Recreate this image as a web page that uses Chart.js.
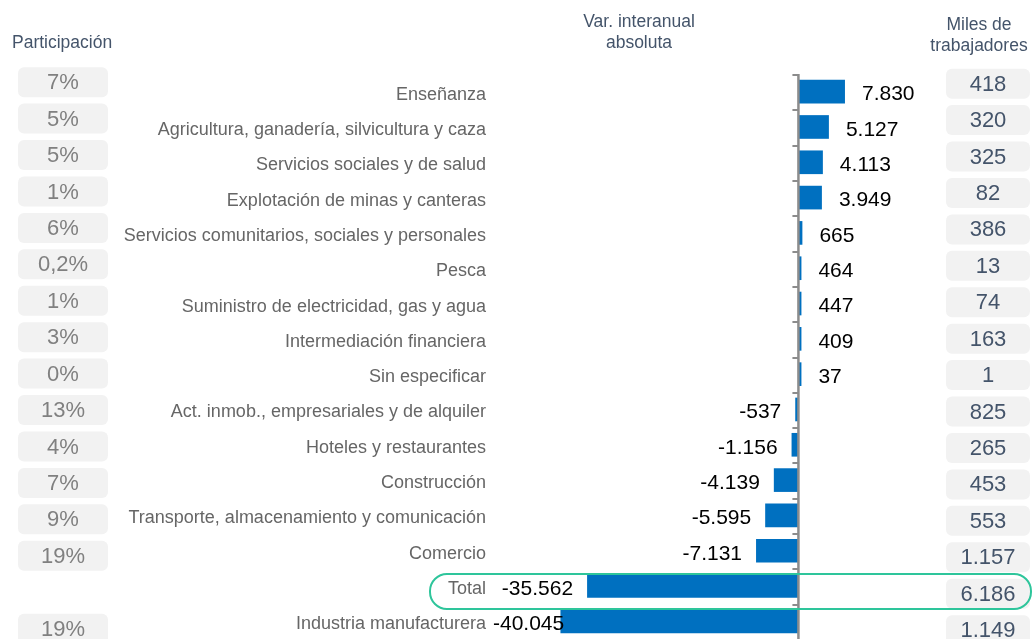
<!DOCTYPE html>
<html>
<head>
<meta charset="utf-8">
<script src="https://cdn.jsdelivr.net/npm/chart.js@4.4.1/dist/chart.umd.min.js"></script>
<style>
  html, body { margin: 0; padding: 0; background: #fff; }
  #wrap { position: relative; width: 1032px; height: 639px; }
</style>
</head>
<body>
<div id="wrap"><canvas id="chart"></canvas></div>
<script>
// datos
const categorias = [
    'Enseñanza',
    'Agricultura, ganadería, silvicultura y caza',
    'Servicios sociales y de salud',
    'Explotación de minas y canteras',
    'Servicios comunitarios, sociales y personales',
    'Pesca',
    'Suministro de electricidad, gas y agua',
    'Intermediación financiera',
    'Sin especificar',
    'Act. inmob., empresariales y de alquiler',
    'Hoteles y restaurantes',
    'Construcción',
    'Transporte, almacenamiento y comunicación',
    'Comercio',
    'Total',
    'Industria manufacturera'
];
const variacion = [7830, 5127, 4113, 3949, 665, 464, 447, 409, 37, -537, -1156, -4139, -5595, -7131, -35562, -40045];
const participacion = ['7%', '5%', '5%', '1%', '6%', '0,2%', '1%', '3%', '0%', '13%', '4%', '7%', '9%', '19%', '', '19%'];
const milesTrabajadores = ['418', '320', '325', '82', '386', '13', '74', '163', '1', '825', '265', '453', '553', '1.157', '6.186', '1.149'];
const filaTotal = 'Total';

const FONT = 'Arial, "Liberation Sans", sans-serif';

// formato con punto de miles
function fmt(n) {
    const s = Math.abs(n).toString().replace(/\B(?=(\d{3})+(?!\d))/g, '.');
    return (n < 0 ? '-' : '') + s;
}

function roundRect(ctx, x, y, w, h, r) {
    ctx.beginPath();
    ctx.moveTo(x + r, y);
    ctx.lineTo(x + w - r, y);
    ctx.arcTo(x + w, y, x + w, y + r, r);
    ctx.lineTo(x + w, y + h - r);
    ctx.arcTo(x + w, y + h, x + w - r, y + h, r);
    ctx.lineTo(x + r, y + h);
    ctx.arcTo(x, y + h, x, y + h - r, r);
    ctx.lineTo(x, y + r);
    ctx.arcTo(x, y, x + r, y, r);
    ctx.closePath();
}

// eje cero, etiquetas, columnas laterales
const extrasPlugin = {
    id: 'extras',
    afterDatasetsDraw(chart) {
        const ctx = chart.ctx;
        const xs = chart.scales.x;
        const ys = chart.scales.y;
        const area = chart.chartArea;
        const x0 = xs.getPixelForValue(0);
        const step = ys.getPixelForValue(1) - ys.getPixelForValue(0);
        ctx.save();

        // valores de las barras
        ctx.font = '21px ' + FONT;
        ctx.fillStyle = '#000';
        ctx.textBaseline = 'middle';
        chart.getDatasetMeta(0).data.forEach((bar, i) => {
            const v = variacion[i];
            const y = bar.y + 3;
            const txt = fmt(v);
            if (v >= 0) {
                ctx.textAlign = 'left';
                ctx.fillText(txt, Math.max(bar.x, x0 + 3) + 17, y);
            } else {
                const w = ctx.measureText(txt).width;
                let right = bar.x - 14;
                if (right - w < 493) right = 493 + w;
                ctx.textAlign = 'right';
                ctx.fillText(txt, right, y);
            }
        });

        // eje vertical en cero
        ctx.strokeStyle = '#8c8c8c';
        ctx.lineWidth = 2.5;
        ctx.beginPath();
        ctx.moveTo(x0, area.top);
        ctx.lineTo(x0, area.bottom + 5);
        ctx.stroke();
        ctx.lineWidth = 2;
        for (let i = 0; i <= categorias.length; i++) {
            const y = Math.round(ys.getPixelForValue(i - 0.5)) + 1;
            ctx.beginPath();
            ctx.moveTo(x0 - 6, y);
            ctx.lineTo(x0, y);
            ctx.stroke();
        }

        // cajas laterales
        ctx.font = '22px ' + FONT;
        ctx.textAlign = 'center';
        categorias.forEach((c, i) => {
            const cy = ys.getPixelForValue(0) - 9.5 + i * (step + 1.12);
            if (participacion[i] !== '') {
                ctx.fillStyle = '#f2f2f2';
                roundRect(ctx, 18, cy - 15, 90, 30, 6);
                ctx.fill();
                ctx.fillStyle = '#808080';
                ctx.fillText(participacion[i], 63, cy + 1);
            }
            const cy2 = cy + 1.5;
            ctx.fillStyle = '#f2f2f2';
            roundRect(ctx, 946, cy2 - 15, 84, 30, 6);
            ctx.fill();
            ctx.fillStyle = '#44546a';
            ctx.fillText(milesTrabajadores[i], 988, cy2 + 1);
        });

        // recuadro de la fila Total
        const it = categorias.indexOf(filaTotal);
        const yt = ys.getPixelForValue(it);
        ctx.strokeStyle = '#2ec59b';
        ctx.lineWidth = 2;
        roundRect(ctx, 430, yt - 12, 601, 35, 17);
        ctx.stroke();

        // encabezados
        ctx.fillStyle = '#44546a';
        ctx.font = '17.5px ' + FONT;
        ctx.textAlign = 'left';
        ctx.fillText('Participación', 12, 43);
        ctx.textAlign = 'center';
        ctx.fillText('Var. interanual', 639, 22);
        ctx.fillText('absoluta', 639, 43);
        ctx.fillText('Miles de', 979, 25);
        ctx.fillText('trabajadores', 979, 46);
        ctx.restore();
    }
};

const canvas = document.getElementById('chart');
new Chart(canvas, {
    type: 'bar',
    data: {
        labels: categorias,
        datasets: [{
            data: variacion,
            backgroundColor: '#0070c0',
            borderWidth: 0,
            barPercentage: 0.67,
            categoryPercentage: 1,
            minBarLength: 3
        }]
    },
    options: {
        indexAxis: 'y',
        responsive: true,
        maintainAspectRatio: false,
        animation: false,
        layout: { padding: { top: 74, bottom: 0, left: 0, right: 85 } },
        plugins: {
            legend: { display: false },
            tooltip: { enabled: false }
        },
        scales: {
            x: {
                display: false,
                min: -45000,
                max: 25000
            },
            y: {
                grid: { display: false, drawTicks: false },
                border: { display: false },
                afterFit(scale) {
                    scale.width = 531;
                    scale.paddingTop = 0;
                    scale.paddingBottom = 0;
                },
                ticks: {
                    padding: 45,
                    labelOffset: 3,
                    color: '#666666',
                    font: { family: FONT, size: 18 }
                }
            }
        }
    },
    plugins: [extrasPlugin]
});
</script>
</body>
</html>
